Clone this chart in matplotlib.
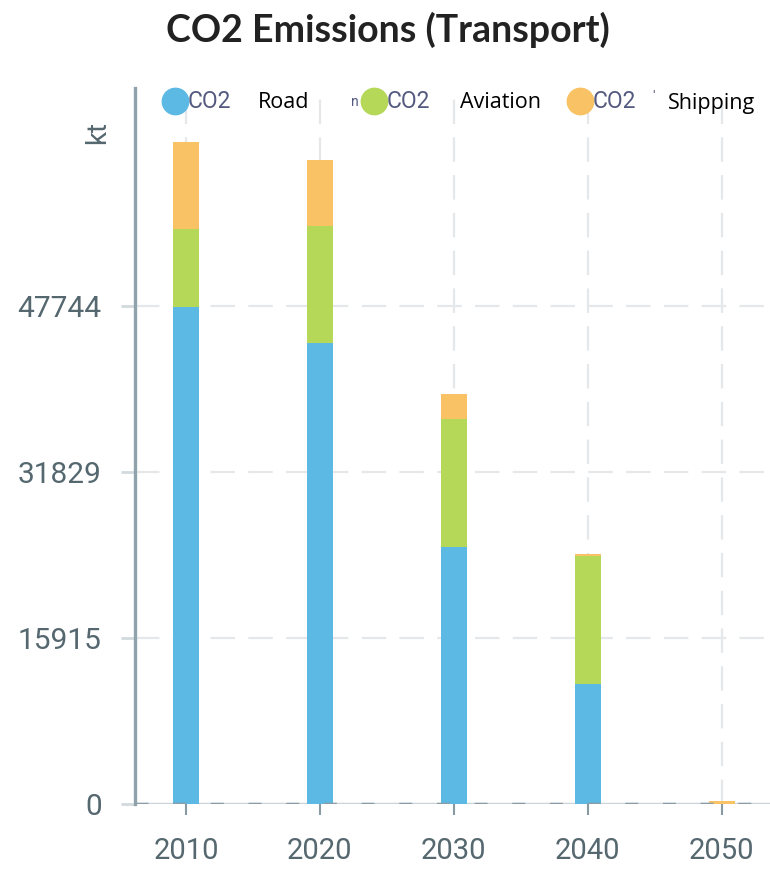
import matplotlib
matplotlib.use("Agg")
import matplotlib.pyplot as plt
from matplotlib.lines import Line2D
import numpy as np

# data (kt)
years = [2010, 2020, 2030, 2040, 2050]
road = [47700, 44250, 24650, 11500, 0]
aviation = [7500, 11250, 12250, 12250, 0]
shipping = [8350, 6250, 2450, 250, 250]
yticks = [0, 15915, 31829, 47744]
series_names = ["Road", "Aviation", "Shipping"]
colors = ["#5BB9E4", "#B5D858", "#F9C264"]

fig = plt.figure(figsize=(7.7, 8.69), dpi=100)
ax = fig.add_axes([135 / 770, 1 - 804 / 869, 1 - 135 / 770, (804 - 88) / 869])

# grid
grid_kw = dict(color="#e4e8eb", lw=1.6, dashes=(11, 6), zorder=0)
for y in yticks[1:]:
    ax.axhline(y, **grid_kw)
for x in years:
    ax.axvline(x, **grid_kw)

# stacked bars
road = np.array(road)
aviation = np.array(aviation)
shipping = np.array(shipping)
w = 1.95
ax.bar(years, road, width=w, color=colors[0], zorder=2)
ax.bar(years, aviation, width=w, bottom=road, color=colors[1], zorder=2)
ax.bar(years, shipping, width=w, bottom=road + aviation, color=colors[2], zorder=2)

# baseline
ax.axhline(0, color="#ccd4d9", lw=2.5, zorder=1)
ax.axhline(0, color="#8c9ca6", lw=2.5, dashes=(3.75, 7.1), zorder=3)

ax.set_xlim(2006.2, 2053.6)
ax.set_ylim(0, 68700)
ax.set_xticks(years)
ax.set_yticks(yticks)
ax.set_xticklabels([str(y) for y in years])
ax.set_yticklabels([str(y) for y in yticks])

for s in ["top", "right", "bottom"]:
    ax.spines[s].set_visible(False)
ax.spines["left"].set_color("#90a3ad")
ax.spines["left"].set_linewidth(2.4)

ax.tick_params(axis="y", length=10, width=2, color="#d3dadf", pad=14,
               labelsize=21.5, labelcolor="#55676f")
ax.tick_params(axis="x", length=8, width=1.5, color="#8a9aa3", pad=16,
               labelsize=21, labelcolor="#55676f")
for lab in ax.get_xticklabels() + ax.get_yticklabels():
    lab.set_family("Roboto")

# title and axis unit
fig.text(388 / 770, 1 - 30 / 869, "CO2 Emissions (Transport)", ha="center",
         va="center", fontsize=27, fontweight="bold", color="#222222",
         family="Lato")
fig.text(98 / 770, 1 - 132 / 869, "kt", rotation=90, ha="center", va="center",
         fontsize=20, color="#55676f", family="Roboto")

# legend (markers, faded original labels, overlaid names)
leg_x = [175, 374, 580]
name_x = [258, 460, 668]
for lx, nx, c, name in zip(leg_x, name_x, colors, series_names):
    fig.add_artist(Line2D([lx / 770], [1 - 101 / 869], marker="o",
                          markersize=19, color=c, transform=fig.transFigure))
    fig.text((lx + 13) / 770, 1 - 101 / 869, "CO2", ha="left", va="center",
             fontsize=16.5, color="#54597f", family="Roboto")
    fig.text(nx / 770, 1 - 103 / 869, name, ha="left", va="center",
             fontsize=15.5, color="black", family="Open Sans")
fig.text(351 / 770, 1 - 102 / 869, "n", ha="left", va="center",
         fontsize=10, color="#54597f", family="Roboto")
fig.text(652 / 770, 1 - 97 / 869, "'", ha="left", va="center",
         fontsize=10, color="#54597f", family="Roboto")

fig.savefig("out.png", dpi=100)
